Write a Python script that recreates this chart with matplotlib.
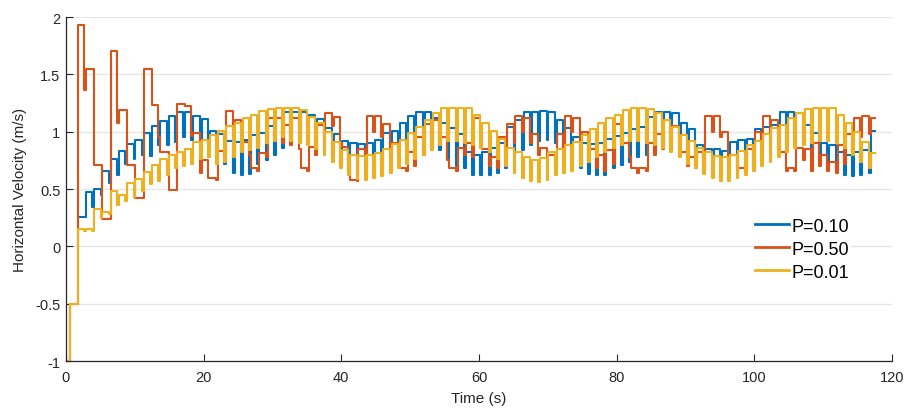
import matplotlib
matplotlib.use("Agg")
import matplotlib.pyplot as plt

plt.rcParams['font.family'] = ['Liberation Sans', 'DejaVu Sans']

# ---- data ----
start_t = [0.1, 0.65]
start_v = [-1.0, -0.5]
end_t = 117.6

step_t = [1.7, 2.9, 4.1, 5.3, 6.5, 7.7, 8.9, 10.1, 11.3, 12.5, 13.7, 14.9, 16.1, 17.3,
          18.5, 19.7, 20.9, 22.1, 23.3, 24.5, 25.7, 26.9, 28.1, 29.3, 30.5, 31.7, 32.9,
          34.1, 35.3, 36.5, 37.7, 38.9, 40.1, 41.3, 42.5, 43.7, 44.9, 46.1, 47.3, 48.5,
          49.7, 50.9, 52.1, 53.3, 54.5, 55.7, 56.9, 58.1, 59.3, 60.5, 61.7, 62.9, 64.1,
          65.3, 66.5, 67.7, 68.9, 70.1, 71.3, 72.5, 73.7, 74.9, 76.1, 77.3, 78.5, 79.7,
          80.9, 82.1, 83.3, 84.5, 85.7, 86.9, 88.1, 89.3, 90.5, 91.7, 92.9, 94.1, 95.3,
          96.5, 97.7, 98.9, 100.1, 101.3, 102.5, 103.7, 104.9, 106.1, 107.3, 108.5,
          109.7, 110.9, 112.1, 113.3, 114.5, 115.7, 116.9]

# P = 0.10 (blue): step level and short dip level at the end of each step
p010_high = [0.26, 0.47, 0.50, 0.66, 0.76, 0.83, 0.89, 0.93, 0.99, 1.05, 1.09, 1.14, 1.17, 1.17,
             1.14, 1.11, 1.01, 0.98, 0.92, 0.91, 0.93, 0.97, 0.99, 1.05, 1.12, 1.17, 1.17,
             1.17, 1.15, 1.11, 1.03, 0.98, 0.92, 0.90, 0.89, 0.90, 0.93, 0.99, 1.01, 1.08,
             1.14, 1.17, 1.17, 1.12, 1.08, 1.03, 0.98, 0.82, 0.80, 0.82, 0.86, 0.90, 1.04,
             1.10, 1.17, 1.17, 1.18, 1.17, 1.10, 1.03, 0.95, 0.90, 0.89, 0.90, 0.94, 0.96,
             0.99, 1.02, 1.04, 1.13, 1.17, 1.17, 1.16, 1.08, 1.02, 0.88, 0.85, 0.85, 0.83,
             0.91, 0.93, 0.94, 1.02, 1.04, 1.06, 1.17, 1.17, 1.16, 1.06, 0.99, 0.90, 0.88,
             0.82, 0.80, 0.82, 0.84, 1.01]
p010_dip = [0.26, 0.34, 0.45, 0.55, 0.62, 0.72, 0.76, 0.80, 0.79, 0.88, 0.88, 0.91, 0.95, 0.93,
            0.90, 0.85, 0.78, 0.72, 0.64, 0.62, 0.63, 0.72, 0.75, 0.80, 0.86, 0.90, 0.92,
            0.90, 0.88, 0.84, 0.78, 0.72, 0.66, 0.63, 0.62, 0.64, 0.68, 0.78, 0.82, 0.86,
            0.90, 0.92, 0.90, 0.84, 0.76, 0.70, 0.68, 0.62, 0.62, 0.62, 0.64, 0.68, 0.78,
            0.84, 0.88, 0.92, 0.93, 0.90, 0.84, 0.76, 0.68, 0.63, 0.62, 0.62, 0.68, 0.71,
            0.74, 0.78, 0.80, 0.84, 0.88, 0.90, 0.90, 0.82, 0.76, 0.64, 0.61, 0.60, 0.60,
            0.64, 0.66, 0.68, 0.78, 0.80, 0.84, 0.88, 0.90, 0.90, 0.80, 0.76, 0.68, 0.66,
            0.62, 0.61, 0.62, 0.64, 1.01]

# P = 0.50 (orange)
p050_high = [1.93, 1.55, 0.71, 0.24, 1.70, 1.19, 0.71, 0.42, 1.55, 1.23, 0.82, 0.49, 1.24, 1.22,
             0.99, 0.75, 0.60, 0.83, 1.18, 1.10, 0.91, 0.68, 0.81, 1.12, 1.12, 1.06, 1.12,
             0.68, 0.87, 1.06, 1.16, 1.13, 0.87, 0.58, 0.85, 1.14, 1.14, 1.07, 0.90, 0.68,
             0.82, 0.95, 1.07, 1.10, 0.95, 0.68, 0.86, 0.90, 1.12, 0.85, 0.78, 0.95, 1.07,
             1.14, 1.12, 0.98, 0.86, 0.80, 0.98, 1.14, 1.12, 1.00, 0.85, 0.80, 0.84, 1.07,
             0.90, 0.68, 0.68, 0.90, 0.98, 1.10, 1.05, 0.82, 0.78, 0.82, 1.14, 1.14, 1.00,
             0.80, 0.68, 0.85, 1.00, 1.14, 1.10, 0.82, 0.68, 0.86, 0.85, 0.90, 0.80, 0.74,
             0.88, 0.98, 1.12, 1.14, 1.12]
p050_dip = [1.36, 1.55, 0.71, 0.24, 1.08, 1.19, 0.71, 0.42, 1.55, 0.95, 0.82, 0.49, 1.24, 0.96,
            0.64, 0.60, 0.58, 0.78, 1.05, 0.82, 0.80, 0.66, 0.78, 0.95, 0.90, 0.88, 0.85,
            0.66, 0.80, 0.95, 1.05, 0.90, 0.75, 0.57, 0.80, 1.00, 0.95, 0.80, 0.78, 0.66,
            0.70, 0.80, 0.86, 0.88, 0.75, 0.66, 0.80, 0.78, 0.92, 0.70, 0.68, 0.80, 0.90,
            1.00, 0.90, 0.80, 0.78, 0.70, 0.85, 1.00, 0.92, 0.80, 0.68, 0.66, 0.72, 0.88,
            0.78, 0.64, 0.66, 0.80, 0.85, 0.90, 0.80, 0.70, 0.68, 0.72, 1.00, 0.95, 0.78,
            0.68, 0.66, 0.80, 0.90, 1.00, 0.88, 0.66, 0.66, 0.75, 0.66, 0.70, 0.66, 0.64,
            0.72, 0.82, 0.95, 0.98, 0.98]

# P = 0.01 (yellow)
p001_high = [0.15, 0.15, 0.33, 0.30, 0.48, 0.45, 0.55, 0.59, 0.65, 0.71, 0.76, 0.80, 0.82, 0.85,
             0.91, 0.93, 0.97, 1.01, 1.05, 1.08, 1.12, 1.15, 1.18, 1.20, 1.21, 1.21, 1.21,
             1.19, 1.13, 1.08, 1.00, 0.91, 0.84, 0.80, 0.79, 0.80, 0.81, 0.85, 0.89, 0.93,
             0.99, 1.04, 1.10, 1.16, 1.21, 1.21, 1.21, 1.21, 1.15, 1.08, 1.01, 0.94, 0.86,
             0.82, 0.78, 0.75, 0.77, 0.82, 0.85, 0.88, 0.91, 0.97, 1.02, 1.08, 1.12, 1.15,
             1.19, 1.21, 1.21, 1.20, 1.16, 1.10, 1.04, 0.97, 0.92, 0.86, 0.82, 0.79, 0.78,
             0.80, 0.83, 0.88, 0.92, 0.98, 1.03, 1.06, 1.12, 1.16, 1.20, 1.21, 1.21, 1.21,
             1.15, 1.08, 1.00, 0.91, 0.81]
p001_dip = [0.13, 0.13, 0.25, 0.28, 0.36, 0.40, 0.43, 0.48, 0.54, 0.57, 0.62, 0.68, 0.70, 0.72,
            0.76, 0.78, 0.72, 0.74, 0.78, 0.82, 0.84, 0.86, 0.90, 0.92, 0.95, 0.92, 0.90,
            0.88, 0.85, 0.80, 0.74, 0.68, 0.62, 0.59, 0.58, 0.60, 0.61, 0.64, 0.68, 0.72,
            0.76, 0.80, 0.84, 0.88, 0.92, 0.92, 0.90, 0.88, 0.86, 0.82, 0.76, 0.70, 0.64,
            0.60, 0.57, 0.56, 0.58, 0.62, 0.64, 0.66, 0.70, 0.74, 0.78, 0.82, 0.86, 0.88,
            0.92, 0.92, 0.90, 0.88, 0.86, 0.82, 0.78, 0.72, 0.68, 0.63, 0.60, 0.57, 0.57,
            0.60, 0.62, 0.66, 0.70, 0.74, 0.78, 0.82, 0.86, 0.88, 0.90, 0.92, 0.92, 0.90,
            0.86, 0.80, 0.74, 0.68, 0.68]

labels = ['P=0.10', 'P=0.50', 'P=0.01']
colors = ['#0072BD', '#D95319', '#EDB120']

DIP_W = 0.28


def build(high, dip):
    xs = list(start_t)
    ys = list(start_v)
    n = len(step_t)
    for k in range(n):
        t_next = step_t[k + 1] if k + 1 < n else end_t
        xs.append(step_t[k]); ys.append(high[k])
        if k + 1 < n:
            xs.append(t_next - DIP_W); ys.append(dip[k])
    xs.append(end_t); ys.append(high[-1])
    return xs, ys


fig = plt.figure(figsize=(9.06, 4.10), dpi=100)
ax = fig.add_axes([0.0728, 0.117, 0.9117, 0.839])

for (hi, dp), lab, col in zip([(p010_high, p010_dip), (p050_high, p050_dip), (p001_high, p001_dip)],
                              labels, colors):
    xs, ys = build(hi, dp)
    ax.plot(xs, ys, drawstyle='steps-post', color=col, lw=1.5, label=lab)

ax.set_xlim(0, 120)
ax.set_ylim(-1, 2)
ax.set_xticks([0, 20, 40, 60, 80, 100, 120])
ax.set_yticks([-1, -0.5, 0, 0.5, 1, 1.5, 2])
ax.set_yticklabels(['-1', '-0.5', '0', '0.5', '1', '1.5', '2'])
ax.yaxis.grid(True, color='#e6e6e6', lw=1.0)
ax.set_axisbelow(True)
for s in ['top', 'right']:
    ax.spines[s].set_visible(False)
for s in ['left', 'bottom']:
    ax.spines[s].set_color('#262626')
    ax.spines[s].set_linewidth(0.9)
ax.tick_params(direction='in', length=5, width=0.8, colors='#262626', labelsize=10.5)
ax.tick_params(axis='x', pad=6.5)
ax.tick_params(axis='y', pad=4)
ax.set_xlabel('Time (s)', fontsize=11, color='#262626', labelpad=5)
ax.set_ylabel('Horizontal Velocity (m/s)', fontsize=11, color='#262626', labelpad=6)

leg = ax.legend(loc='upper left', bbox_to_anchor=(753 / 906, 1 - 217 / 410),
                bbox_transform=fig.transFigure, frameon=True, fontsize=13,
                handlelength=1.9, handletextpad=0.15, borderpad=0.1, labelspacing=0.33,
                borderaxespad=0)
leg.get_frame().set_edgecolor('none')
leg.get_frame().set_facecolor('white')
leg.get_frame().set_alpha(1)
for line in leg.get_lines():
    line.set_linewidth(2.0)

fig.savefig('out.png', dpi=100)
